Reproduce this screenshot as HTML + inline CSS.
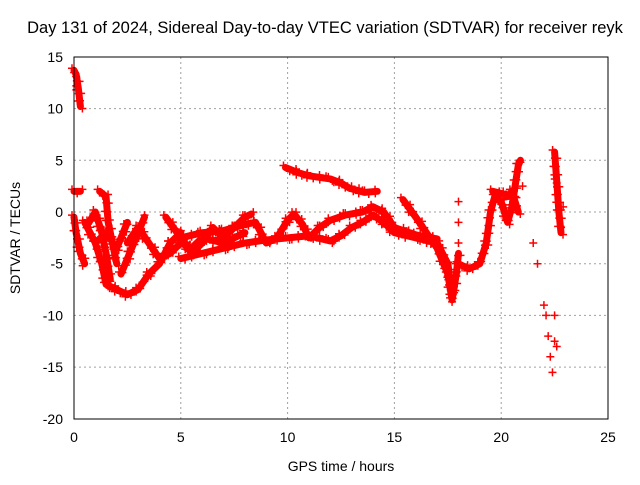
<!DOCTYPE html>
<html><head><meta charset="utf-8"><style>
body{margin:0;background:#fff;}
svg text{font-family:"Liberation Sans",sans-serif;font-size:14px;fill:#000;}
</style></head><body>
<svg width="640" height="480" xmlns="http://www.w3.org/2000/svg">
<rect width="640" height="480" fill="#fff"/>
<text x="325" y="33" text-anchor="middle" style="font-size:16.5px">Day 131 of 2024, Sidereal Day-to-day VTEC variation (SDTVAR) for receiver reyk</text>
<g id="grid"></g>
<g id="marks"></g>
<rect x="74" y="57" width="534" height="362" fill="none" stroke="#000" stroke-width="1"/>
<g id="axes"></g>
<text x="341" y="471" text-anchor="middle">GPS time / hours</text>
<text transform="translate(20,238) rotate(-90)" text-anchor="middle">SDTVAR / TECUs</text>
</svg>
<script>
const xTicks=[0,5,10,15,20,25];
const yTicks=[15,10,5,0,-5,-10,-15,-20];
const tracks=[
[[0,13.7],[0.1,13.3],[0.2,12],[0.3,10.2]],
[[9.9,4.3],[10.5,3.8],[11,3.5],[12,3.2],[12.5,2.8],[12.9,2.3],[13.6,1.9],[14.2,2]],
[[5,-4.5],[6,-4],[7,-3.5],[8,-3],[9,-2.7],[10,-2.5],[11,-2.3],[12,-2.8],[12.5,-2.3],[13,-1.5],[13.5,-1],[14,-0.3],[14.5,-1],[15,-2],[16,-2.5],[17,-3],[17.5,-5],[17.7,-8]],
[[5,-2.5],[6,-2],[7,-1.8],[8,-1.2],[8.5,-1],[9,-3],[9.5,-2.5],[10,-0.8],[10.3,-0.2],[10.7,-1.2],[11,-2.5],[11.5,-1.5],[12,-0.8],[12.7,-0.3],[13.5,0],[14,0.5],[14.5,0],[15,-1.5],[16,-2.2],[17,-2.6]],
[[15.4,1.2],[16,-0.5],[16.5,-2],[17,-3.5],[17.5,-6],[17.7,-8.5],[17.9,-6],[18,-4]],
[[0.5,-1],[1,-3],[1.3,-5],[1.5,-7],[2,-7.5],[2.5,-8],[3,-7.5],[3.5,-6],[4,-5],[4.5,-3],[5,-2]],
[[2.5,-3],[3,-1.5],[3.5,-3],[4,-4.5],[4.5,-4],[5,-3],[5.5,-3.5],[6,-2.5],[7,-3],[8,-2]],
[[2.2,-6],[2.6,-4],[3,-2],[3.3,-0.5]],
[[4.3,-0.5],[5,-2.5],[5.5,-4],[6,-3],[6.5,-1.5],[7,-2.5],[7.5,-1.5],[8,-0.5],[8.3,-0.2]],
[[0,-0.5],[0.1,-2],[0.3,-4],[0.5,-5]],
[[0,2],[0.3,2]],
[[1.2,2],[1.5,1.5],[1.6,-1],[1.8,-3],[2,-5]],
[[0.7,-1],[1,0],[1.3,-2],[1.5,-4],[1.7,-6.5]],
[[1,-3],[1.5,-2],[2,-3.5],[2.5,-1]],
[[18,-5],[18.5,-5.5],[19,-5],[19.3,-3],[19.5,0],[19.7,1.5],[20,1],[20.3,-1],[20.5,0.5],[20.8,4.5],[20.9,5]],
[[19.6,2],[20,1.8],[20.3,1.5],[20.5,2],[20.8,0]],
[[22.5,5.8],[22.6,3],[22.7,0],[22.8,-2]]
];
const scatter=[[18,1],[18,-1],[18,-3],[21,2.5],[21.5,-3],[21.7,-5],[22,-9],[22.1,-10],[22.2,-12],[22.3,-14],[22.4,-15.5],[22.5,-12.5],[22.5,-10],[22.6,-13],[22.8,-1.5],[22.9,0.5]];
const X=h=>74+h*534/25, Y=v=>212-v*362/35;
const NS="http://www.w3.org/2000/svg";
function mk(t,a,p){const e=document.createElementNS(NS,t);for(const k in a)e.setAttribute(k,a[k]);p.appendChild(e);return e;}
const g=document.getElementById('grid'),ax=document.getElementById('axes'),m=document.getElementById('marks');
xTicks.forEach(t=>{const x=X(t);
 if(t>0&&t<25){const l=mk('line',{x1:x,x2:x,y1:57,y2:419,stroke:'#a0a0a0','stroke-dasharray':'2,3'},g);}
 const tx=mk('text',{x:x,y:442,'text-anchor':'middle'},ax);tx.textContent=t;
 });
yTicks.forEach(t=>{const y=Y(t);
 if(t>-20&&t<15){const l=mk('line',{x1:74,x2:608,y1:y,y2:y,stroke:'#a0a0a0','stroke-dasharray':'2,3'},g);}
 const tx=mk('text',{x:63,y:y+5,'text-anchor':'end'},ax);tx.textContent=t;
 });
function plusPx(x,y){const p=mk('path',{d:`M${x-4} ${y}h8M${x} ${y-4}v8`,stroke:'#f00','stroke-width':1.5},m);
 }
tracks.forEach(tr=>{const pl=mk('polyline',{points:tr.map(p=>X(p[0])+','+Y(p[1])).join(' '),fill:'none',stroke:'#f00','stroke-width':7,'stroke-linejoin':'round','stroke-linecap':'round'},m);
 
 for(let i=1;i<tr.length;i++){const x0=X(tr[i-1][0]),y0=Y(tr[i-1][1]),x1=X(tr[i][0]),y1=Y(tr[i][1]);
  const n=Math.max(1,Math.round(Math.hypot(x1-x0,y1-y0)/4));
  for(let k=0;k<=n;k++){const s=k/n;plusPx(x0+(x1-x0)*s+((k%3)-1)*2,y0+(y1-y0)*s+((k%2)?2:-2));}}});
scatter.forEach(p=>plusPx(X(p[0]),Y(p[1])));
</script>
</body></html>
